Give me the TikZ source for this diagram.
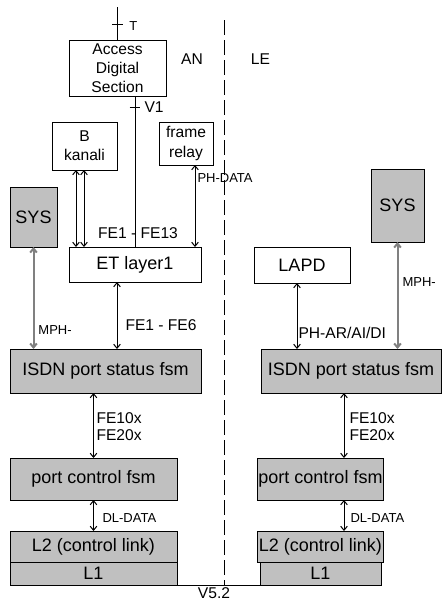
\documentclass[tikz,border=0pt]{standalone}
\usepackage{fontspec}
\setmainfont{Liberation Sans}
\usepackage{tikz}
\usetikzlibrary{arrows.meta, positioning, calc}
\definecolor{boxgray}{HTML}{C0C0C0}
\definecolor{linegray}{HTML}{808080}

\begin{document}
\begin{tikzpicture}[
  x=0.75pt, y=-0.75pt, line width=0.75pt,
  box/.style={rectangle, draw, outer sep=0pt, inner sep=1pt, align=center, font=\fontsize{13.5}{16}\selectfont},
  gbox/.style={box, fill=boxgray},
  sbox/.style={box, font=\fontsize{11.7}{14.4}\selectfont},
  lbl/.style={inner sep=0pt, align=left, font=\fontsize{11.7}{12.5}\selectfont},
  slbl/.style={anchor=west, inner sep=0pt, font=\fontsize{9.75}{11}\selectfont},
  arrow/.style={{Straight Barb[length=3pt,width=5pt]}-{Straight Barb[length=3pt,width=5pt]}},
  garrow/.style={arrow, draw=linegray, line width=1.5pt}
]
  \useasboundingbox (0,0) rectangle (443,601);

  % AN side
  \node[sbox, minimum width=72.75pt, minimum height=42pt] (ads) at (117.5,68) {Access\\Digital\\Section};
  \node[sbox, minimum width=48.75pt, minimum height=36pt] (bkan) at (84.5,146) {B\\kanali};
  \node[sbox, minimum width=40.5pt, minimum height=32.25pt] (frel) at (186,143.5) {frame\\relay};
  \node[gbox, minimum width=35.25pt, minimum height=45pt] (sysL) at (33.5,217) {SYS};
  \node[box, minimum width=99pt, minimum height=26.25pt] (etl1) at (135,264.5) {ET layer1};
  \node[gbox, minimum width=143.25pt, minimum height=33pt] (isdnL) at (105.5,371) {ISDN port status fsm};
  \node[gbox, minimum width=125.25pt, minimum height=31.5pt] (pcL) at (93.5,479) {port control fsm};
  \node[gbox, minimum width=125.25pt, minimum height=23.25pt] (l2L) at (93.5,546.5) {L2 (control link)};
  \node[gbox, minimum width=125.25pt, minimum height=17.25pt, below=0pt of l2L] (l1L) {L1};

  % LE side
  \node[gbox, minimum width=39.75pt, minimum height=54.75pt] (sysR) at (397.5,205.5) {SYS};
  \node[box, minimum width=72pt, minimum height=27pt] (lapd) at (302,265) {LAPD};
  \node[gbox, minimum width=135pt, minimum height=33pt] (isdnR) at (351,371) {ISDN port status fsm};
  \node[gbox, minimum width=90.75pt, minimum height=31.5pt] (pcR) at (320.5,479) {port control fsm};
  \node[gbox, minimum width=90.75pt, minimum height=23.25pt] (l2R) at (320.5,546.5) {L2 (control link)};
  \node[gbox, minimum width=90.75pt, minimum height=17.25pt, below=0pt of l2R] (l1R) {L1};

  \node[lbl] (an) at (192,59) {AN};
  \node[lbl] (le) at (260.5,59) {LE};

  % interfaces
  \coordinate (tTop) at (117.5,7);
  \coordinate (tTick) at (117.5,24);
  \coordinate (vTick) at (135,107);
  \coordinate (dTop) at (224,20);
  \coordinate (dBot) at (224,585);
  \draw (tTop) -- (ads.north);
  \draw ([xshift=-4pt]tTick) -- ([xshift=4pt]tTick);
  \node[slbl] (tlbl) at (129,26) {T};
  \draw (ads.south -| etl1.north) -- (etl1.north);
  \draw ([xshift=-4pt]vTick) -- ([xshift=4pt]vTick);
  \node[lbl, anchor=west] (v1lbl) at (144,107) {V1};
  \draw[dash pattern=on 11.25pt off 3.75pt] (dTop) -- (dBot);
  \draw (l1L.south east) -- (l1R.south west);
  \node[lbl] (v52) at (214,593) {V5.2};

  % connectors AN
  \coordinate (bk1) at ($(bkan.south)+(-8.5,0)$);
  \coordinate (bk2) at ($(bkan.south)+(-0.5,0)$);
  \coordinate (fr1) at ($(frel.south)+(9,0)$);
  \coordinate (et1) at ($(etl1.south)+(-18,0)$);
  \draw[arrow] (bk1) -- (bk1 |- etl1.north);
  \draw[arrow] (bk2) -- (bk2 |- etl1.north);
  \draw[arrow] (fr1) -- (fr1 |- etl1.north);
  \node[slbl] (phd) at (197,178) {PH-DATA};
  \node[lbl] (fe13) at (138,233) {FE1 - FE13};
  \draw[garrow] (sysL.south) -- (sysL.south |- isdnL.north);
  \node[slbl] (mphL) at (38,330) {MPH-};
  \draw[arrow] (et1) -- (et1 |- isdnL.north);
  \node[lbl, anchor=west] (fe6) at (125,325) {FE1 - FE6};
  \draw[arrow] (pcL.north |- isdnL.south) -- (pcL.north);
  \node[lbl, anchor=west] (fexL) at (96,426.5) {FE10x\\FE20x};
  \draw[arrow] (pcL.south) -- (l2L.north);
  \node[slbl] (dlL) at (102,518) {DL-DATA};

  % connectors LE
  \coordinate (lp1) at ($(lapd.south)+(-5,0)$);
  \coordinate (pc1) at ($(pcR.north)+(23.5,0)$);
  \coordinate (pc2) at ($(pcR.south)+(23.5,0)$);
  \draw[arrow] (lp1) -- (lp1 |- isdnR.north);
  \node[lbl, anchor=west] (phar) at (298,333) {PH-AR/AI/DI};
  \draw[garrow] (sysR.south) -- (sysR.south |- isdnR.north);
  \node[slbl] (mphR) at (402,282) {MPH-};
  \draw[arrow] (pc1 |- isdnR.south) -- (pc1);
  \node[lbl, anchor=west] (fexR) at (349,426.5) {FE10x\\FE20x};
  \draw[arrow] (pc2) -- (pc2 |- l2R.north);
  \node[slbl] (dlR) at (350,518) {DL-DATA};
\end{tikzpicture}
\end{document}
